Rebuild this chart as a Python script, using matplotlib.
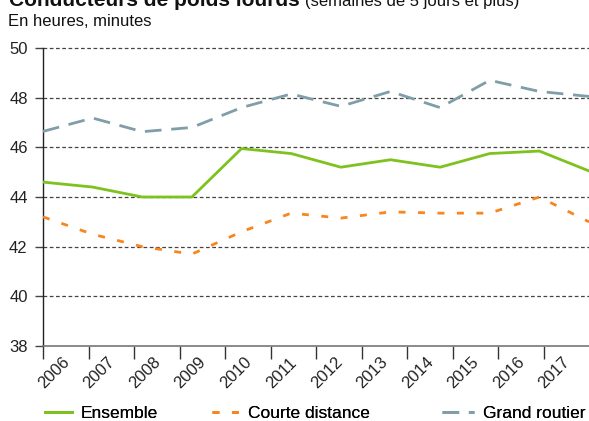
import matplotlib
matplotlib.use("Agg")
from matplotlib import pyplot as plt

plt.rcParams['font.family'] = ['Liberation Sans', 'DejaVu Sans']

years = ['2006', '2007', '2008', '2009', '2010', '2011',
         '2012', '2013', '2014', '2015', '2016', '2017']
ensemble = [44.6, 44.4, 44.0, 44.0, 45.95, 45.75, 45.2, 45.5, 45.2, 45.75, 45.85, 45.05]
courte = [43.2, 42.5, 42.0, 41.7, 42.6, 43.35, 43.15, 43.4, 43.35, 43.35, 44.0, 43.0]
grand = [46.64, 47.18, 46.63, 46.8, 47.6, 48.15, 47.65, 48.25, 47.6, 48.7, 48.25, 48.05]
yticks = [38, 40, 42, 44, 46, 48, 50]

GREEN = '#7dc21e'
ORANGE = '#f7861f'
GREY = '#7f9ea8'

W, H = 589, 421
fig = plt.figure(figsize=(W / 100, H / 100), dpi=100)
ax_w = W - 43
ax = fig.add_axes([43 / W, (H - 346) / H, ax_w / W, 298 / H])

xs = list(range(len(years)))
l_grand, = ax.plot(xs, grand, color=GREY, lw=2.0, dashes=(6, 3.5), zorder=3)
l_ens, = ax.plot(xs, ensemble, color=GREEN, lw=2.0, zorder=3)
l_court, = ax.plot(xs, courte, color=ORANGE, lw=2.0, dashes=(2.5, 4.5), zorder=3)

n = len(years) - 1
ax.set_xlim(0, n)
ax.set_ylim(38, 50)

# tick marks are spaced slightly tighter than the data points,
# labels sit a little to the right of each mark
step = n / len(years)
ticks = [i * step for i in range(len(years))]
shift = 11 / ax_w * n
ax.set_xticks(ticks, minor=True)
ax.set_xticks([t + shift for t in ticks])
ax.set_xticklabels(years, rotation=45, ha='center', va='center',
                   rotation_mode='anchor', fontsize=12, color='#222222')
ax.tick_params(axis='x', which='minor', length=9, width=1, color='#333333')
ax.tick_params(axis='x', which='major', length=0, pad=19.5)

ax.set_yticks(yticks)
ax.set_yticklabels([str(v) for v in yticks], fontsize=12, color='#222222')
ax.tick_params(axis='y', length=6, width=1, color='#444444', pad=5)
for v in yticks[1:]:
    ax.axhline(v, color='#444444', lw=0.9, dashes=(3, 2), zorder=1, clip_on=False)

for s in ['top', 'right']:
    ax.spines[s].set_visible(False)
ax.spines['left'].set_color('#222222')
ax.spines['left'].set_linewidth(1)
ax.spines['bottom'].set_color('#777777')
ax.spines['bottom'].set_linewidth(1.2)

fig.text(9 / W, 1 - 6 / H, 'Conducteurs de poids lourds', fontsize=15,
         fontweight='bold', va='baseline', ha='left', color='#111111')
fig.text(305 / W, 1 - 6 / H, '(semaines de 5 jours et plus)', fontsize=12,
         va='baseline', ha='left', color='#111111')
fig.text(8 / W, 1 - 26 / H, 'En heures, minutes', fontsize=12,
         va='baseline', ha='left', color='#111111')

# one legend per entry, placed like the original
entries = [(l_ens, 'Ensemble', 45, 1.55), (l_court, 'Courte distance', 212, 1.55),
           (l_grand, 'Grand routier', 442, 1.85)]
for line, text, x0, hl in entries:
    leg = fig.legend([line], [text], loc='center left',
                     bbox_to_anchor=(x0 / W, 1 - 413 / H), frameon=False,
                     fontsize=12.5, handlelength=hl, handletextpad=0.5,
                     borderaxespad=0, borderpad=0)
    fig.add_artist(leg)

fig.savefig('out.png', dpi=100)
